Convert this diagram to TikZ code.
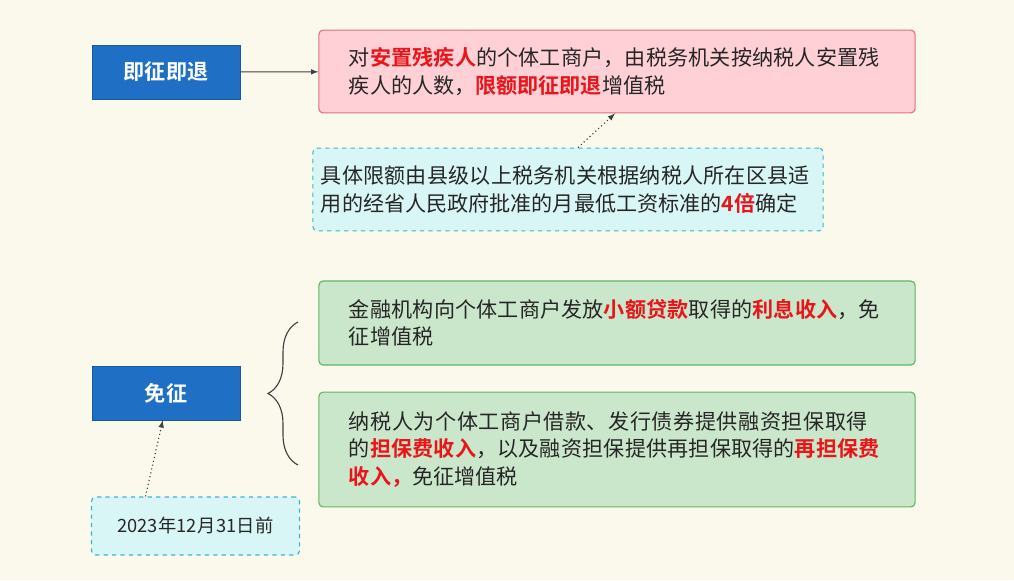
\documentclass[tikz,border=0pt]{standalone}
\usepackage{fontspec}
\setmainfont{Noto Sans CJK SC}[BoldFont={* Bold}]
\XeTeXlinebreaklocale "zh"
\XeTeXlinebreakskip=0pt plus 1pt
\usetikzlibrary{decorations.pathreplacing}
\definecolor{bgc}{HTML}{FBF8EC}
\definecolor{tagblue}{HTML}{1F6FC5}
\definecolor{pinkf}{HTML}{FFD1D6}
\definecolor{pinkd}{HTML}{E0707E}
\definecolor{cyanf}{HTML}{D9F6F6}
\definecolor{cyand}{HTML}{3AB5CF}
\definecolor{greenf}{HTML}{CBE7CB}
\definecolor{greend}{HTML}{62B562}
\definecolor{hl}{HTML}{E8151B}
\newcommand{\hlt}[1]{\textcolor{hl}{\bfseries #1}}
\tikzset{%
    tag/.style={fill=tagblue,draw=tagblue!80!black,text=white,font=\bfseries\fontsize{15}{17}\selectfont,minimum width=3.7cm,minimum height=1.35cm,inner sep=0pt},
    note/.style={rounded corners=3pt,thick,align=left,text width=13.4cm,inner xsep=0.75cm,font=\fontsize{15}{19.5}\selectfont,text=black!85}
}
\begin{document}
\begin{tikzpicture}[
        x=0.025cm,y=-0.025cm,
        pinkbox/.style={note,fill=pinkf,draw=pinkd},
        cyanbox/.style={note,fill=cyanf,draw=cyand,dashed},
        greenbox/.style={note,fill=greenf,draw=greend},
        link/.style={thick,black!75,-latex},
        hint/.style={thick,black!75,dotted,-latex}
        ]
        \fill[bgc] (0,0) rectangle (1014,580);

        \node[tag] (jz) at (166,72) {即征即退};
        \node[tag] (mz) at (166,393) {免征};

        \node[pinkbox,minimum height=2.07cm] (cj) at (617,71.5) {对\hlt{安置残疾人}的个体工商户，由税务机关按纳税人安置残疾人的人数，\hlt{限额即征即退}增值税};
        \node[cyanbox,text width=12.35cm,inner xsep=0.2cm,minimum height=2.07cm] (xe) at (568,189.5) {具体限额由县级以上税务机关根据纳税人所在区县适用的经省人民政府批准的月最低工资标准的\hlt{4倍}确定};
        \node[greenbox,minimum height=2.1cm] (dk) at (617,323) {金融机构向个体工商户发放\hlt{小额贷款}取得的\hlt{利息收入}，免征增值税};
        \node[greenbox,minimum height=2.87cm] (db) at (617,449.5) {纳税人为个体工商户借款、发行债券提供融资担保取得的\hlt{担保费收入}，以及融资担保提供再担保取得的\hlt{再担保费收入，}免征增值税};
        \node[cyanbox,text width=4.4cm,align=center,minimum width=5.2cm,minimum height=1.45cm,inner xsep=0pt,font=\fontsize{13}{16}\selectfont] (rq) at (195.5,526) {2023年12月31日前};

        \draw[link] (jz) -- (cj);
        \draw[hint] (xe.north) ++(10,0) coordinate (xt) (xt) -- ([xshift=-0.05cm]cj.south);
        \draw[hint] ([xshift=-1.25cm]rq.north) -- ([xshift=-0.08cm]mz.south);
        \draw[thick,black!75,decorate,decoration={brace,amplitude=0.75cm}] (298,465) -- (298,322);
    \end{tikzpicture}
\end{document}
